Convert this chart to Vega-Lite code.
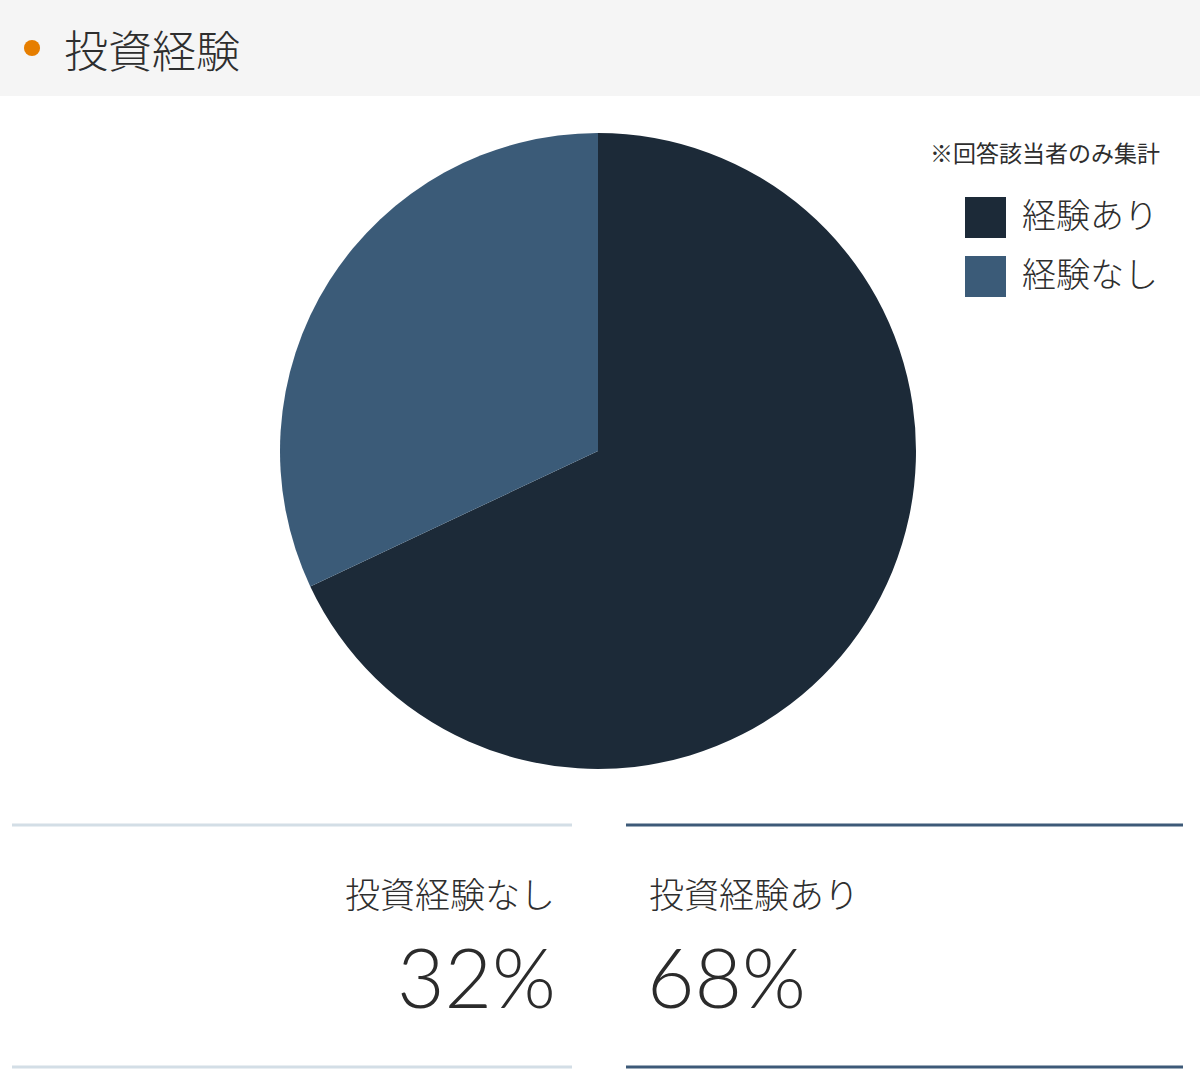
{
  "$schema": "https://vega.github.io/schema/vega-lite/v6.json",
  "autosize": {"type": "fit", "contains": "padding"},
  "width": 1200,
  "height": 1090,
  "padding": 0,
  "background": "white",
  "data": {
    "values": [
      {"group": "経験あり", "stat": "投資経験あり", "share": 0.68},
      {"group": "経験なし", "stat": "投資経験なし", "share": 0.32}
    ]
  },
  "layer": [
    {
      "data": {"values": [{"title": "投資経験"}]},
      "mark": {"type": "rect", "color": "#f5f5f5"},
      "encoding": {
        "x": {"value": 0}, "x2": {"value": 1200},
        "y": {"value": 0}, "y2": {"value": 96}
      }
    },
    {
      "data": {"values": [{"title": "投資経験"}]},
      "mark": {"type": "circle", "color": "#e67e00", "opacity": 1, "size": 260},
      "encoding": {"x": {"value": 32}, "y": {"value": 48}}
    },
    {
      "data": {"values": [{"title": "投資経験"}]},
      "mark": {"type": "text", "align": "left", "baseline": "middle", "fontSize": 44, "fontWeight": 300, "color": "#2e2e2e", "font": "Noto Sans CJK JP"},
      "encoding": {"x": {"value": 64}, "y": {"value": 55}, "text": {"field": "title"}}
    },
    {
      "mark": {"type": "arc", "radius": 318},
      "encoding": {
        "theta": {"field": "share", "type": "quantitative", "stack": true},
        "order": {"field": "group", "sort": "ascending"},
        "color": {
          "field": "group",
          "type": "nominal",
          "scale": {"domain": ["経験あり", "経験なし"], "range": ["#1c2a38", "#3b5b78"]},
          "legend": {
            "title": null,
            "orient": "none",
            "legendX": 965,
            "legendY": 197,
            "symbolType": "square",
            "symbolSize": 1681,
            "symbolStrokeWidth": 0,
            "symbolOpacity": 1,
            "labelFontSize": 34,
            "labelFontWeight": 300,
            "labelFont": "Noto Sans CJK JP",
            "labelColor": "#2e2e2e",
            "labelOffset": 16,
            "labelLimit": 400,
            "rowPadding": 18,
            "padding": 0
          }
        },
        "x": {"value": 598},
        "y": {"value": 451}
      }
    },
    {
      "data": {"values": [{"note": "※回答該当者のみ集計"}]},
      "mark": {"type": "text", "align": "right", "baseline": "middle", "fontSize": 23, "color": "#2e2e2e", "font": "Noto Sans CJK JP"},
      "encoding": {"x": {"value": 1160}, "y": {"value": 155}, "text": {"field": "note"}}
    },
    {
      "data": {"values": [{"box": "なし"}]},
      "mark": {"type": "rule", "color": "#d3dee6", "strokeWidth": 3},
      "encoding": {"x": {"value": 12}, "x2": {"value": 572}, "y": {"value": 825}}
    },
    {
      "data": {"values": [{"box": "なし"}]},
      "mark": {"type": "rule", "color": "#d3dee6", "strokeWidth": 3},
      "encoding": {"x": {"value": 12}, "x2": {"value": 572}, "y": {"value": 1067}}
    },
    {
      "data": {"values": [{"box": "あり"}]},
      "mark": {"type": "rule", "color": "#3d5a78", "strokeWidth": 3},
      "encoding": {"x": {"value": 626}, "x2": {"value": 1183}, "y": {"value": 825}}
    },
    {
      "data": {"values": [{"box": "あり"}]},
      "mark": {"type": "rule", "color": "#3d5a78", "strokeWidth": 3},
      "encoding": {"x": {"value": 626}, "x2": {"value": 1183}, "y": {"value": 1067}}
    },
    {
      "transform": [{"filter": "datum.group === '経験なし'"}],
      "mark": {"type": "text", "align": "right", "baseline": "middle", "fontSize": 35, "fontWeight": 300, "color": "#2e2e2e", "font": "Noto Sans CJK JP"},
      "encoding": {"x": {"value": 555}, "y": {"value": 897}, "text": {"field": "stat"}}
    },
    {
      "transform": [{"filter": "datum.group === '経験なし'"}],
      "mark": {"type": "text", "align": "right", "baseline": "alphabetic", "fontSize": 82, "fontWeight": 300, "color": "#2b2b2b", "font": "Lato"},
      "encoding": {"x": {"value": 556}, "y": {"value": 1008}, "text": {"field": "share", "type": "quantitative", "format": ".0%"}}
    },
    {
      "transform": [{"filter": "datum.group === '経験あり'"}],
      "mark": {"type": "text", "align": "left", "baseline": "middle", "fontSize": 35, "fontWeight": 300, "color": "#2e2e2e", "font": "Noto Sans CJK JP"},
      "encoding": {"x": {"value": 649}, "y": {"value": 897}, "text": {"field": "stat"}}
    },
    {
      "transform": [{"filter": "datum.group === '経験あり'"}],
      "mark": {"type": "text", "align": "left", "baseline": "alphabetic", "fontSize": 82, "fontWeight": 300, "color": "#2b2b2b", "font": "Lato"},
      "encoding": {"x": {"value": 647}, "y": {"value": 1008}, "text": {"field": "share", "type": "quantitative", "format": ".0%"}}
    }
  ],
  "config": {"view": {"stroke": null}, "font": "Noto Sans CJK JP"}
}
